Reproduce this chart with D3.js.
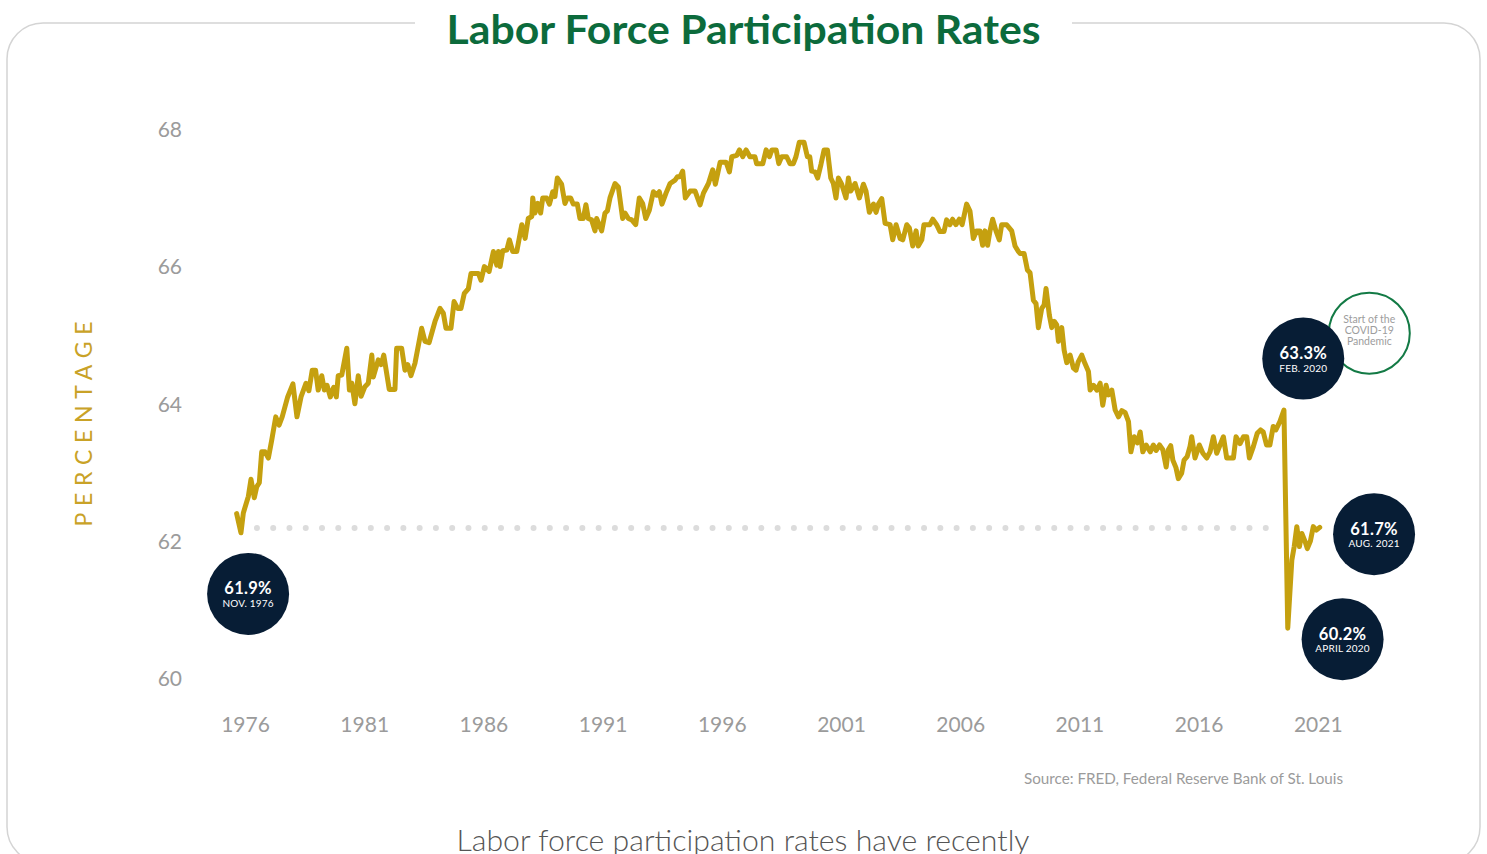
<!DOCTYPE html>
<html>
<head>
<meta charset="utf-8">
<script src="https://cdn.jsdelivr.net/npm/d3@7"></script>
<style>
  body { margin: 0; background: #fff; overflow: hidden; }
  svg { display: block; }
  .axis text { font-family: Lato, "Open Sans", sans-serif; fill: #9b9b9b; }
</style>
</head>
<body>
<svg id="chart" width="1487" height="854"></svg>
<script>
// civilian labor force participation rate (fractional year, percent)
const dates = [
  1976.15,1976.33,1976.43,1976.64,1976.75,1976.89,1976.99,1977.10,1977.20,1977.34,
  1977.48,1977.62,1977.79,1977.93,1978.06,1978.29,1978.51,1978.68,1978.85,1979.06,
  1979.18,1979.32,1979.46,1979.57,1979.72,1979.83,1979.94,1980.08,1980.22,1980.33,
  1980.41,1980.56,1980.77,1980.88,1980.98,1981.11,1981.25,1981.37,1981.53,1981.67,
  1981.82,1981.88,1982.09,1982.21,1982.32,1982.55,1982.79,1982.86,1983.07,1983.21,
  1983.33,1983.46,1983.63,1983.91,1984.05,1984.22,1984.47,1984.68,1984.82,1984.93,
  1985.14,1985.27,1985.42,1985.56,1985.70,1985.87,1985.98,1986.29,1986.40,1986.54,
  1986.74,1986.92,1987.06,1987.13,1987.20,1987.31,1987.48,1987.59,1987.73,1987.90,
  1988.11,1988.25,1988.38,1988.53,1988.57,1988.66,1988.78,1988.90,1988.99,1989.15,
  1989.27,1989.41,1989.50,1989.60,1989.78,1989.92,1990.02,1990.16,1990.27,1990.44,
  1990.55,1990.69,1990.80,1990.90,1991.04,1991.18,1991.25,1991.46,1991.60,1991.70,
  1991.81,1992.02,1992.16,1992.34,1992.44,1992.58,1992.72,1992.89,1993.04,1993.18,
  1993.31,1993.46,1993.63,1993.77,1993.88,1993.99,1994.16,1994.33,1994.54,1994.64,
  1994.75,1994.86,1994.97,1995.17,1995.38,1995.59,1995.73,1995.94,1996.12,1996.23,
  1996.43,1996.68,1996.82,1996.92,1997.13,1997.24,1997.38,1997.52,1997.68,1997.89,
  1997.96,1998.22,1998.36,1998.50,1998.60,1998.78,1998.89,1999.01,1999.22,1999.36,
  1999.50,1999.61,1999.75,1999.95,2000.09,2000.19,2000.27,2000.41,2000.52,2000.66,
  2000.79,2000.93,2001.07,2001.18,2001.29,2001.39,2001.53,2001.71,2001.81,2001.91,
  2002.09,2002.27,2002.44,2002.55,2002.69,2002.86,2002.97,2003.07,2003.21,2003.35,
  2003.56,2003.67,2003.81,2003.98,2004.09,2004.26,2004.37,2004.51,2004.65,2004.74,
  2004.89,2004.98,2005.23,2005.35,2005.51,2005.65,2005.82,2005.93,2006.07,2006.18,
  2006.32,2006.46,2006.58,2006.77,2006.91,2007.05,2007.19,2007.33,2007.44,2007.54,
  2007.65,2007.75,2007.86,2008.00,2008.14,2008.24,2008.45,2008.66,2008.80,2008.94,
  2009.01,2009.18,2009.32,2009.43,2009.57,2009.68,2009.78,2009.92,2010.02,2010.10,
  2010.24,2010.34,2010.45,2010.55,2010.62,2010.76,2010.86,2010.97,2011.11,2011.25,
  2011.36,2011.45,2011.60,2011.73,2011.88,2011.95,2012.09,2012.23,2012.37,2012.48,
  2012.62,2012.72,2012.86,2013.00,2013.14,2013.28,2013.42,2013.56,2013.66,2013.80,
  2013.93,2014.05,2014.16,2014.30,2014.47,2014.60,2014.72,2014.86,2015.00,2015.14,
  2015.23,2015.33,2015.42,2015.55,2015.65,2015.79,2015.89,2016.02,2016.14,2016.21,
  2016.35,2016.53,2016.68,2016.84,2016.98,2017.12,2017.26,2017.40,2017.54,2017.68,
  2017.96,2018.07,2018.24,2018.38,2018.52,2018.63,2018.80,2018.96,2019.10,2019.21,
  2019.35,2019.49,2019.63,2019.74,2019.91,2020.08,2020.24,2020.41,2020.51,2020.62,
  2020.73,2020.83,2020.97,2021.06,2021.19,2021.31,2021.44,2021.58
];
const rates = [
  62.41,62.13,62.42,62.66,62.91,62.64,62.80,62.86,63.31,63.31,
  63.22,63.48,63.82,63.70,63.82,64.11,64.30,63.82,64.11,64.31,
  64.20,64.50,64.50,64.21,64.42,64.21,64.28,64.11,64.25,64.11,
  64.42,64.43,64.82,64.21,64.31,64.01,64.42,64.12,64.26,64.31,
  64.72,64.40,64.65,64.58,64.72,64.22,64.22,64.82,64.82,64.50,
  64.58,64.42,64.60,65.11,64.92,64.90,65.21,65.40,65.33,65.11,
  65.11,65.50,65.40,65.40,65.62,65.69,65.91,65.91,65.81,66.01,
  65.94,66.23,66.03,66.23,66.01,66.24,66.25,66.40,66.23,66.23,
  66.62,66.42,66.71,66.74,67.01,66.79,66.93,66.79,67.01,67.01,
  66.92,67.10,67.03,67.30,67.21,66.93,67.01,67.01,66.92,66.92,
  66.71,66.71,66.91,66.71,66.69,66.53,66.71,66.53,66.79,66.82,
  67.01,67.22,67.17,66.71,66.79,66.71,66.69,66.62,67.01,66.93,
  66.71,66.83,67.10,67.05,67.10,66.92,67.08,67.22,67.27,67.32,
  67.32,67.40,67.01,67.11,67.11,66.91,67.08,67.22,67.42,67.21,
  67.53,67.53,67.39,67.61,67.63,67.71,67.61,67.71,67.61,67.61,
  67.51,67.51,67.71,67.61,67.71,67.71,67.51,67.61,67.61,67.51,
  67.51,67.61,67.82,67.82,67.61,67.61,67.40,67.39,67.30,67.50,
  67.71,67.71,67.30,67.22,67.01,67.30,67.21,67.01,67.30,67.11,
  67.22,67.01,67.21,67.11,66.80,66.92,66.80,66.92,67.00,66.64,
  66.62,66.40,66.62,66.42,66.40,66.62,66.57,66.31,66.53,66.31,
  66.40,66.62,66.62,66.70,66.62,66.52,66.52,66.69,66.62,66.70,
  66.62,66.70,66.62,66.92,66.82,66.42,66.53,66.53,66.32,66.53,
  66.32,66.53,66.70,66.53,66.40,66.62,66.62,66.53,66.31,66.23,
  66.20,66.20,65.96,65.92,65.52,65.47,65.12,65.40,65.45,65.69,
  65.30,65.12,65.21,65.16,64.92,65.12,64.79,64.61,64.72,64.53,
  64.50,64.62,64.72,64.60,64.48,64.21,64.28,64.21,64.31,63.99,
  64.28,64.14,64.21,63.92,63.82,63.91,63.88,63.75,63.31,63.53,
  63.44,63.60,63.31,63.41,63.31,63.41,63.33,63.41,63.34,63.09,
  63.34,63.40,63.19,63.08,62.92,63.00,63.19,63.24,63.39,63.53,
  63.22,63.41,63.29,63.22,63.31,63.53,63.29,63.41,63.53,63.22,
  63.22,63.53,63.43,63.53,63.53,63.22,63.39,63.58,63.63,63.60,
  63.41,63.41,63.68,63.63,63.75,63.92,60.74,61.73,61.93,62.22,
  61.93,62.12,62.00,61.90,62.01,62.22,62.17,62.21
];

const yTicks = [60, 62, 64, 66, 68];
const xTickYears = [1976, 1981, 1986, 1991, 1996, 2001, 2006, 2011, 2016, 2021];

// dotted reference level
const refLevel = 62.2, refFrom = 1977.0, refTo = 2020.0;

// callout bubbles
const calloutValues = ["61.9%", "63.3%", "61.7%", "60.2%"];
const calloutDates = ["NOV. 1976", "FEB. 2020", "AUG. 2021", "APRIL 2020"];
const calloutAtYear = [1976.63, 2020.89, 2023.86, 2022.54];
const calloutAtRate = [61.24, 64.67, 62.11, 60.58];
const covidNote = ["Start of the", "COVID-19", "Pandemic"];
const covidAt = [2023.66, 65.04];

const svg = d3.select("#chart");

// scales: tick labels sit at mid-year
const x = d3.scaleLinear().domain([1976.5, 2021.5]).range([245, 1317.8]);
const y = d3.scaleLinear().domain([60, 68]).range([679, 130]);

// card frame + title
svg.append("rect")
  .attr("x", 7).attr("y", 23)
  .attr("width", 1473).attr("height", 840)
  .attr("rx", 36)
  .attr("fill", "none")
  .attr("stroke", "#d4d4d4")
  .attr("stroke-width", 1.5);

svg.append("rect")
  .attr("x", 415).attr("y", 0)
  .attr("width", 657).attr("height", 50)
  .attr("fill", "#fff");

svg.append("text")
  .attr("x", 743.5).attr("y", 44)
  .attr("text-anchor", "middle")
  .attr("font-family", "Lato, 'Open Sans', sans-serif")
  .attr("font-weight", 700)
  .attr("font-size", 41)
  .attr("fill", "#0c6b3c")
  .attr("textLength", 594)
  .attr("lengthAdjust", "spacingAndGlyphs")
  .text("Labor Force Participation Rates");

// axes
const xAxis = svg.append("g")
  .attr("class", "axis")
  .attr("transform", "translate(0,717)")
  .call(d3.axisBottom(x)
    .tickValues(xTickYears.map(d => d + 0.5))
    .tickFormat(d => Math.floor(d))
    .tickSize(0).tickPadding(0));
xAxis.select(".domain").remove();
xAxis.selectAll("text").attr("font-size", 21);

const yAxis = svg.append("g")
  .attr("class", "axis")
  .attr("transform", "translate(182,0)")
  .call(d3.axisLeft(y)
    .tickValues(yTicks)
    .tickSize(0).tickPadding(0));
yAxis.select(".domain").remove();
yAxis.selectAll("text").attr("font-size", 21);

svg.append("text")
  .attr("transform", "translate(92,424) rotate(-90)")
  .attr("text-anchor", "middle")
  .attr("font-family", "Lato, 'Open Sans', sans-serif")
  .attr("font-size", 23)
  .attr("fill", "#c9a227")
  .attr("textLength", 205)
  .attr("lengthAdjust", "spacing")
  .text("PERCENTAGE");

// dotted reference line
const refLen = x(refTo) - x(refFrom);
svg.append("line")
  .attr("x1", x(refFrom)).attr("x2", x(refTo))
  .attr("y1", y(refLevel)).attr("y2", y(refLevel))
  .attr("stroke", "#dcdcdc")
  .attr("stroke-width", 6)
  .attr("stroke-linecap", "round")
  .attr("stroke-dasharray", "0 " + (refLen / 63));

// the series
const series = dates.map((d, i) => [d, rates[i]]);
const line = d3.line()
  .x(d => x(d[0]))
  .y(d => y(d[1]));

svg.append("path")
  .datum(series)
  .attr("d", line)
  .attr("fill", "none")
  .attr("stroke", "#c5a00f")
  .attr("stroke-width", 5)
  .attr("stroke-linejoin", "round")
  .attr("stroke-linecap", "round");

// covid note ring (sits under the feb 2020 bubble)
const covid = svg.append("g")
  .attr("transform", `translate(${x(covidAt[0])},${y(covidAt[1])})`);
covid.append("circle")
  .attr("r", 40.5)
  .attr("fill", "#fff")
  .attr("stroke", "#137a45")
  .attr("stroke-width", 2);
covid.selectAll("text")
  .data(covidNote)
  .enter().append("text")
  .attr("x", 0)
  .attr("y", (d, i) => -10.5 + i * 11.3)
  .attr("text-anchor", "middle")
  .attr("font-family", "Lato, 'Open Sans', sans-serif")
  .attr("font-size", 10.5)
  .attr("fill", "#9d9d9d")
  .text(d => d);

// callout bubbles
const bubbles = svg.selectAll(".bubble")
  .data(calloutValues)
  .enter().append("g")
  .attr("class", "bubble")
  .attr("transform", (d, i) => `translate(${x(calloutAtYear[i])},${y(calloutAtRate[i])})`);

bubbles.append("circle")
  .attr("r", 41)
  .attr("fill", "#071d35");

bubbles.append("text")
  .attr("y", 0.5)
  .attr("text-anchor", "middle")
  .attr("font-family", "Lato, 'Open Sans', sans-serif")
  .attr("font-weight", 700)
  .attr("font-size", 16.5)
  .attr("letter-spacing", 0.3)
  .attr("fill", "#fff")
  .text(d => d);

bubbles.append("text")
  .attr("y", 13)
  .attr("text-anchor", "middle")
  .attr("font-family", "Lato, 'Open Sans', sans-serif")
  .attr("font-size", 10)
  .attr("letter-spacing", 0.2)
  .attr("fill", "#fff")
  .text((d, i) => calloutDates[i]);

// source + caption
svg.append("text")
  .attr("x", 1343).attr("y", 784)
  .attr("text-anchor", "end")
  .attr("font-family", "Lato, 'Open Sans', sans-serif")
  .attr("font-size", 14.5)
  .attr("fill", "#9b9b9b")
  .attr("textLength", 319)
  .attr("lengthAdjust", "spacingAndGlyphs")
  .text("Source: FRED, Federal Reserve Bank of St. Louis");

// caption continues below the fold, as in the original layout
svg.append("text")
  .attr("x", 743).attr("y", 851)
  .attr("text-anchor", "middle")
  .attr("font-family", "Lato, 'Open Sans', sans-serif")
  .attr("font-weight", 300)
  .attr("font-size", 30)
  .attr("fill", "#555")
  .attr("textLength", 573)
  .attr("lengthAdjust", "spacingAndGlyphs")
  .text("Labor force participation rates have recently");
</script>
</body>
</html>
